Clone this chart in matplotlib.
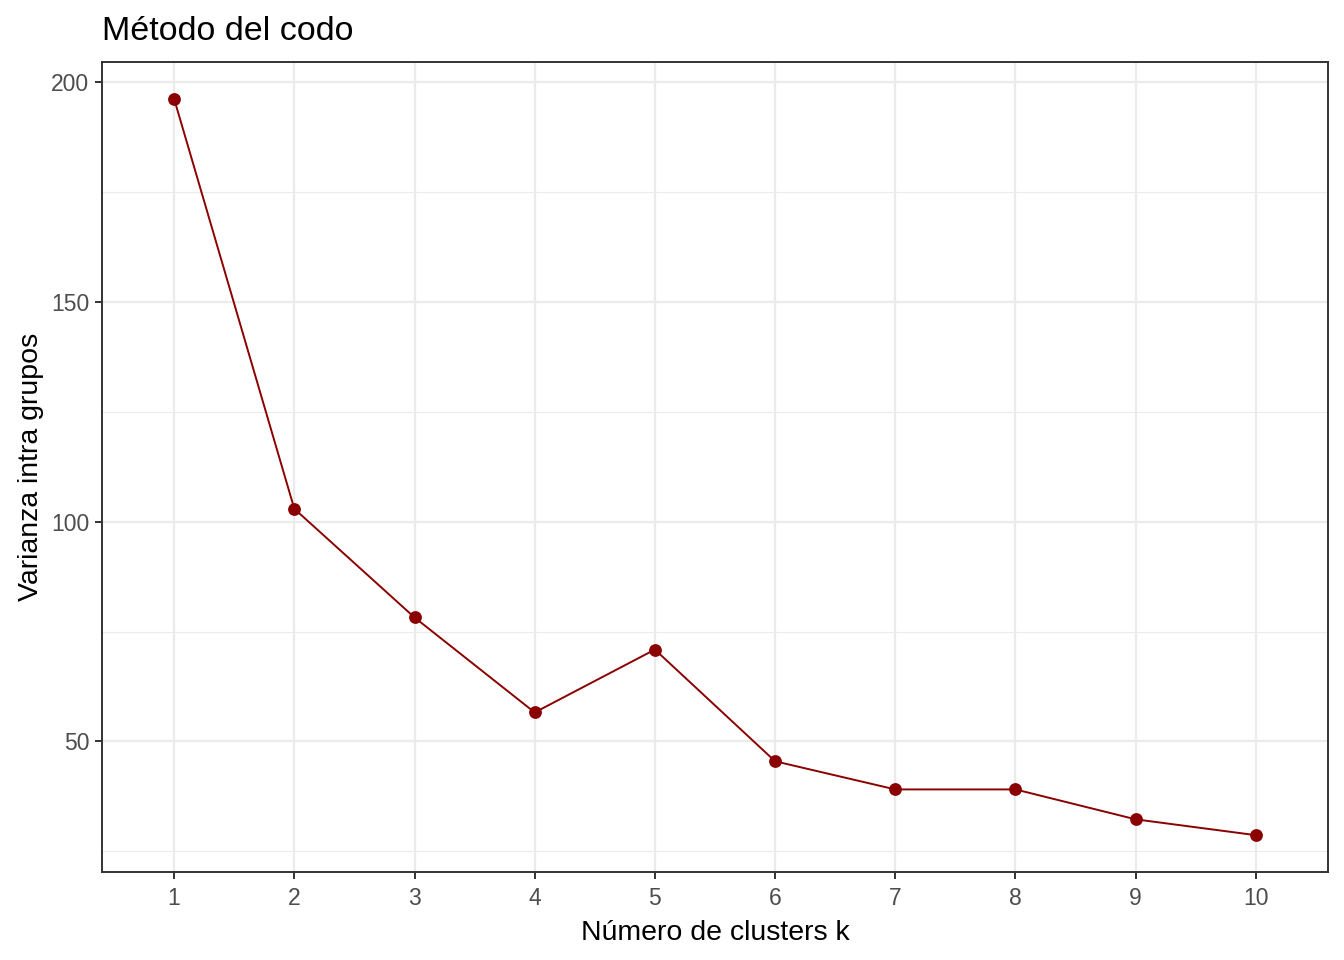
import matplotlib
matplotlib.use("Agg")
import matplotlib.pyplot as plt

# values
k_values = [1, 2, 3, 4, 5, 6, 7, 8, 9, 10]
within_var = [196.1, 102.9, 78.2, 56.6, 70.9, 45.5, 39.1, 39.1, 32.3, 28.7]

y_major = [50, 100, 150, 200]
y_minor = [25, 75, 125, 175]

plt.rcParams['font.family'] = ['Liberation Sans', 'DejaVu Sans']

fig = plt.figure(figsize=(13.44, 9.6), dpi=100)
ax = fig.add_axes([102 / 1344, 1 - 872 / 960, 1226 / 1344, 810 / 960])

# grid like ggplot theme_bw
for y in y_minor:
    ax.axhline(y, color='#ebebeb', lw=0.8, zorder=0)
for y in y_major:
    ax.axhline(y, color='#ebebeb', lw=1.6, zorder=0)
for x in k_values:
    ax.axvline(x, color='#ebebeb', lw=1.6, zorder=0)

ax.plot(k_values, within_var, color='#8b0000', lw=1.4, zorder=2)
ax.scatter(k_values, within_var, color='#8b0000', s=85, zorder=3, linewidths=0)

ymin, ymax = min(within_var), max(within_var)
pad = (ymax - ymin) * 0.05
ax.set_ylim(ymin - pad, ymax + pad)
ax.set_xlim(0.4, 10.6)

ax.set_xticks(k_values)
ax.set_yticks(y_major)
ax.tick_params(axis='both', colors='#333333', labelcolor='#4d4d4d',
               labelsize=16.5, length=5, width=1.4)
ax.tick_params(axis='x', pad=6)
ax.tick_params(axis='y', pad=4)

for sp in ax.spines.values():
    sp.set_color('#333333')
    sp.set_linewidth(1.4)

ax.set_xlabel('Número de clusters k', fontsize=20.5, color='black', labelpad=7)
ax.set_ylabel('Varianza intra grupos', fontsize=20.5, color='black', labelpad=5)
ax.set_title('Método del codo', fontsize=24.5, loc='left', color='black', pad=16)

fig.savefig('out.png', dpi=100, facecolor='white')
